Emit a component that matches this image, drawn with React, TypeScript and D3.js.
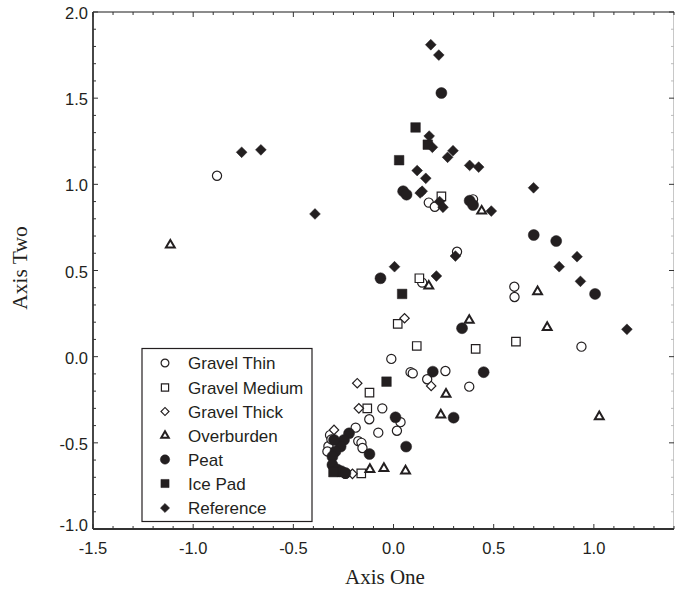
import * as d3 from "d3";

// ordination scores, [axis one, axis two]
const gravelThin: [number, number][] = [
  [-0.881, 1.05], [0.176, 0.894], [0.206, 0.87], [0.397, 0.913], [0.317, 0.609],
  [0.143, 0.43], [0.603, 0.406], [0.604, 0.346], [0.938, 0.058], [-0.011, -0.013],
  [0.085, -0.09], [0.096, -0.097], [0.259, -0.083], [0.168, -0.131], [0.378, -0.174],
  [-0.056, -0.3], [-0.121, -0.363], [0.035, -0.38], [0.017, -0.43], [-0.189, -0.412],
  [-0.076, -0.441], [-0.176, -0.49], [-0.16, -0.5], [-0.155, -0.53], [-0.317, -0.455],
  [-0.325, -0.52], [-0.33, -0.55], [-0.27, -0.67], [-0.24, -0.68], [-0.31, -0.48],
];
const gravelMedium: [number, number][] = [
  [0.239, 0.93], [0.129, 0.455], [0.021, 0.19], [0.116, 0.062], [0.41, 0.045],
  [0.611, 0.087], [-0.12, -0.209], [-0.131, -0.3], [-0.161, -0.677],
];
const gravelThick: [number, number][] = [
  [0.055, 0.223], [0.188, -0.17], [-0.181, -0.154], [-0.173, -0.3], [-0.297, -0.425],
  [-0.205, -0.68],
];
const overburden: [number, number][] = [
  [-1.114, 0.648], [0.44, 0.845], [0.176, 0.41], [0.719, 0.377], [0.378, 0.211],
  [0.767, 0.17], [0.262, -0.218], [0.236, -0.338], [1.027, -0.348], [-0.118, -0.654],
  [-0.048, -0.648], [0.06, -0.663],
];
const peat: [number, number][] = [
  [0.239, 1.53], [0.048, 0.96], [0.065, 0.94], [0.38, 0.905], [0.397, 0.88],
  [0.7, 0.706], [0.812, 0.671], [1.006, 0.364], [-0.065, 0.455], [0.342, 0.165],
  [0.196, -0.087], [0.45, -0.09], [0.3, -0.354], [0.01, -0.352], [0.063, -0.522],
  [-0.12, -0.565], [-0.222, -0.445], [-0.247, -0.483], [-0.264, -0.522], [-0.297, -0.483],
  [-0.29, -0.55], [-0.305, -0.58], [-0.305, -0.628], [-0.28, -0.655], [-0.26, -0.665],
  [-0.24, -0.675],
];
const icePad: [number, number][] = [
  [0.11, 1.33], [0.171, 1.23], [0.028, 1.14], [0.043, 0.364], [-0.035, -0.145],
  [-0.3, -0.67],
];
const reference: [number, number][] = [
  [0.186, 1.81], [0.226, 1.75], [0.178, 1.28], [0.194, 1.215], [0.297, 1.195],
  [0.27, 1.157], [0.38, 1.11], [0.425, 1.1], [0.118, 1.08], [0.161, 1.035],
  [0.143, 0.96], [0.133, 0.95], [0.23, 0.9], [0.247, 0.867], [0.488, 0.845],
  [-0.758, 1.186], [-0.662, 1.2], [-0.392, 0.828], [0.699, 0.98], [0.916, 0.58],
  [0.827, 0.522], [0.933, 0.437], [1.165, 0.159], [0.309, 0.584], [0.214, 0.468],
  [0.005, 0.522],
];

const seriesNames = ["Gravel Thin", "Gravel Medium", "Gravel Thick", "Overburden", "Peat", "Ice Pad", "Reference"];
const seriesData = [gravelThin, gravelMedium, gravelThick, overburden, peat, icePad, reference];
const xTickValues = [-1.5, -1.0, -0.5, 0.0, 0.5, 1.0];
const yTickValues = [-1.0, -0.5, 0.0, 0.5, 1.0, 1.5, 2.0];

const INK = "#231f20";

type Kind = "circle" | "square" | "diamond" | "triangle";
const markerKind: Kind[] = ["circle", "square", "diamond", "triangle", "circle", "square", "diamond"];
const markerFilled = [false, false, false, false, true, true, true];

function markerPath(kind: Kind, filled: boolean, scale = 1) {
  let type = d3.symbolCircle;
  let size = filled ? 95 : 66;
  if (kind === "square") { type = d3.symbolSquare; size = filled ? 92 : 72; }
  if (kind === "diamond") { type = d3.symbolSquare; size = filled ? 58 : 44; }
  if (kind === "triangle") { type = d3.symbolTriangle; size = 34; }
  return d3.symbol().type(type).size(size * scale * scale)() as string;
}

function Marker({ i, x, y, scale = 1 }: { i: number; x: number; y: number; scale?: number }) {
  const kind = markerKind[i];
  const filled = markerFilled[i];
  const rot = kind === "diamond" ? " rotate(45)" : "";
  return (
    <path
      d={markerPath(kind, filled, scale)}
      transform={`translate(${x},${y})${rot}`}
      fill={filled ? INK : "#fff"}
      stroke={INK}
      strokeWidth={kind === "triangle" ? 2 : filled ? 0.5 : 1.2}
    />
  );
}

export default function App() {
  const width = 675;
  const height = 590;
  const x = d3.scaleLinear().domain([-1.5, 1.4]).range([93, 674]);
  const y = d3.scaleLinear().domain([-1, 2]).range([529, 12]);

  const xMinor = d3.range(-15, 15).map((v) => v / 10);
  const yMinor = d3.range(-10, 21).map((v) => v / 10);
  const isMajor = (v: number) => Math.abs(v * 2 - Math.round(v * 2)) < 1e-6;

  const legendRows = [363, 387.5, 411.5, 435.5, 459.5, 483.5, 508];

  return (
    <svg
      width={width}
      height={height}
      style={{ position: "absolute", left: 0, top: 0, background: "#fff" }}
      fontFamily="Liberation Sans, Arial, sans-serif"
    >
      {/* frame */}
      <line x1={x(1.4) - 0.5} x2={x(1.4) - 0.5} y1={y(2)} y2={y(-1)} stroke="#c8c8c8" strokeWidth={1} />
      <line x1={x(-1.5)} x2={x(1.4)} y1={y(2)} y2={y(2)} stroke="#666" strokeWidth={1.5} />
      <line x1={x(-1.5)} x2={x(1.4)} y1={y(-1)} y2={y(-1)} stroke="#333" strokeWidth={1.8} />
      <line x1={x(-1.5)} x2={x(-1.5)} y1={y(2)} y2={y(-1)} stroke="#333" strokeWidth={1.8} />

      {xMinor.map((v) => (
        <g key={"xt" + v}>
          <line x1={x(v)} x2={x(v)} y1={y(-1)} y2={y(-1) - (isMajor(v) ? 5 : 3)} stroke="#333" strokeWidth={1} />
          <line x1={x(v)} x2={x(v)} y1={y(2)} y2={y(2) + (isMajor(v) ? 5 : 3)} stroke="#333" strokeWidth={1} />
        </g>
      ))}
      {yMinor.map((v) => (
        <g key={"yt" + v}>
          <line x1={x(-1.5)} x2={x(-1.5) + (isMajor(v) ? 5 : 3)} y1={y(v)} y2={y(v)} stroke="#333" strokeWidth={1} />
          <line x1={x(1.4)} x2={x(1.4) - (isMajor(v) ? 5 : 3)} y1={y(v)} y2={y(v)} stroke={isMajor(v) ? "#333" : "#bbb"} strokeWidth={1} />
        </g>
      ))}

      {xTickValues.map((v) => (
        <text key={"xl" + v} x={x(v)} y={554} textAnchor="middle" fontSize={16.5} fill={INK}>
          {v.toFixed(1)}
        </text>
      ))}
      {yTickValues.map((v) => (
        <text key={"yl" + v} x={88} y={y(v) + (v === -1 ? -3 : 2) + 5} textAnchor="end" fontSize={16.5} fill={INK}>
          {v.toFixed(1)}
        </text>
      ))}

      <text x={385} y={584} textAnchor="middle" fontFamily="Liberation Serif, Times New Roman, serif" fontSize={21} fill={INK}>
        Axis One
      </text>
      <text
        transform="translate(27,268) rotate(-90)"
        textAnchor="middle"
        fontFamily="Liberation Serif, Times New Roman, serif"
        fontSize={21.5}
        fill={INK}
      >
        Axis Two
      </text>

      {seriesData.map((pts, i) => (
        <g key={"s" + i}>
          {pts.map((p, j) => (
            <Marker key={j} i={i} x={x(p[0])} y={y(p[1])} />
          ))}
        </g>
      ))}

      {/* legend */}
      <rect x={142} y={348.5} width={170} height={173} fill="#fff" stroke={INK} strokeWidth={1.2} />
      {seriesNames.map((name, i) => (
        <g key={"lg" + i}>
          <Marker i={i} x={165} y={legendRows[i]} scale={0.85} />
          <text x={188} y={legendRows[i] + 6} fontSize={17} fill={INK}>
            {name}
          </text>
        </g>
      ))}
    </svg>
  );
}
